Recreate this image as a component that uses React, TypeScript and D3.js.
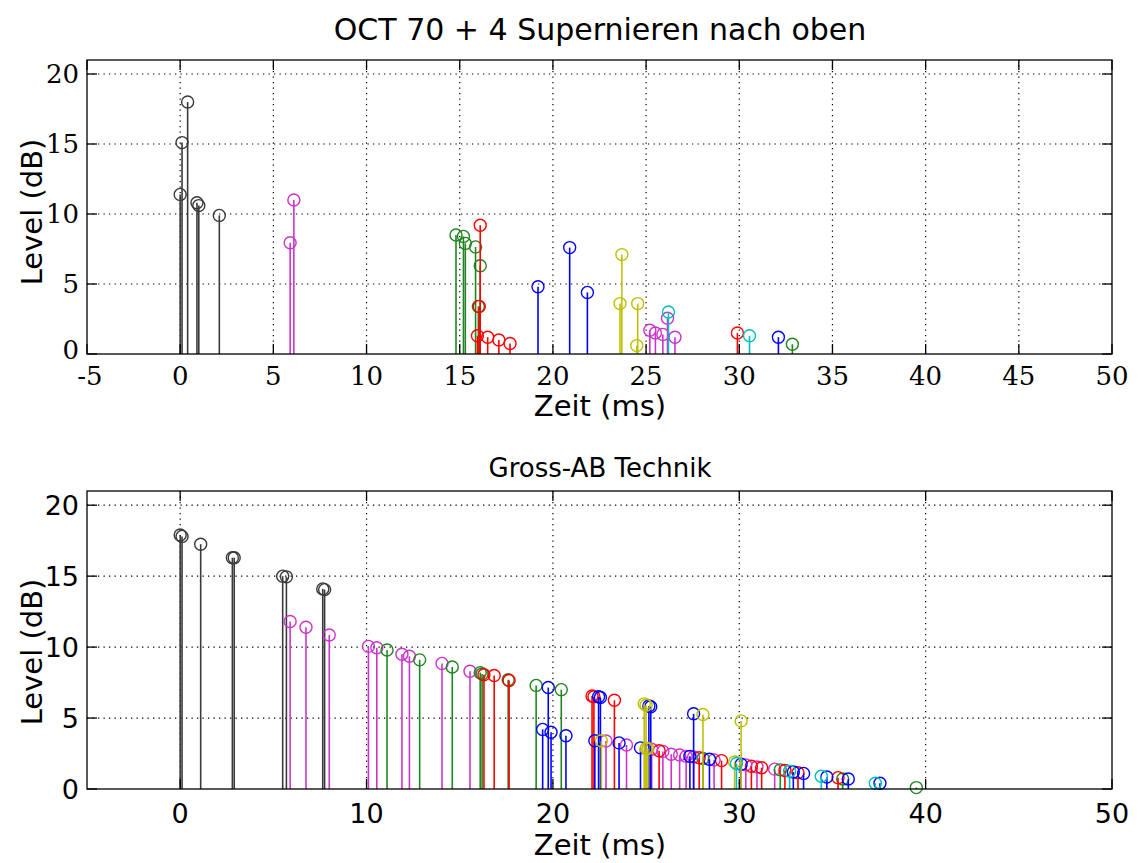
import * as d3 from 'd3';
import React from 'react';

// [time ms, level dB] per colour
const topBlack = [[0.0, 11.4], [0.1, 15.1], [0.4, 18.0], [0.9, 10.8], [1.0, 10.6], [2.1, 9.9]];
const topMagenta = [[5.9, 7.95], [6.1, 11.0], [25.2, 1.7], [25.5, 1.5], [25.9, 1.4], [26.15, 2.55], [26.55, 1.2]];
const topGreen = [[14.8, 8.5], [15.2, 8.4], [15.3, 7.9], [15.85, 7.65], [16.1, 6.3], [16.0, 3.4], [32.85, 0.7]];
const topRed = [[16.1, 9.2], [16.05, 3.4], [15.95, 1.3], [16.5, 1.2], [17.1, 1.0], [17.7, 0.75], [29.9, 1.5]];
const topBlue = [[19.2, 4.8], [20.9, 7.6], [21.85, 4.4], [32.1, 1.2]];
const topYellow = [[23.7, 7.1], [23.6, 3.6], [24.55, 3.6], [24.5, 0.6]];
const topCyan = [[26.2, 3.0], [30.55, 1.3]];

const botBlack = [[0.0, 17.9], [0.1, 17.8], [1.1, 17.25], [2.8, 16.3], [2.9, 16.3], [5.5, 15.0], [5.7, 14.95], [7.65, 14.1], [7.75, 14.05]];
const botMagenta = [[5.9, 11.8], [6.75, 11.4], [8.0, 10.85], [10.1, 10.05], [10.55, 9.95], [11.9, 9.5], [12.3, 9.35], [14.05, 8.85], [15.55, 8.3],
  [22.85, 3.38], [23.95, 3.1], [25.3, 2.8], [25.9, 2.65], [26.35, 2.45], [26.8, 2.4], [27.15, 2.3], [27.55, 2.25], [28.65, 2.05], [30.35, 1.7], [30.95, 1.55], [31.9, 1.4]];
const botGreen = [[11.1, 9.8], [12.85, 9.1], [14.6, 8.6], [16.1, 8.2], [16.2, 8.1], [17.6, 7.7], [19.1, 7.3], [20.45, 7.0], [28.05, 2.15], [32.2, 1.35], [35.55, 0.7], [39.5, 0.1]];
const botRed = [[16.3, 8.05], [16.85, 8.0], [17.65, 7.65], [22.1, 6.55], [22.2, 6.5], [23.3, 6.25], [25.7, 2.7], [27.85, 2.2], [29.05, 2.0], [30.65, 1.6], [31.2, 1.5], [32.45, 1.3], [33.15, 1.15], [35.3, 0.8]];
const botBlue = [[19.75, 7.15], [19.45, 4.2], [19.9, 4.0], [20.7, 3.75], [22.45, 6.5], [22.55, 6.45], [25.15, 5.85], [25.25, 5.8], [27.55, 5.3],
  [22.25, 3.4], [23.55, 3.25], [24.7, 2.9], [27.35, 2.3], [28.4, 2.1], [30.1, 1.75], [32.9, 1.2], [33.45, 1.1], [34.7, 0.85], [35.85, 0.7], [37.55, 0.4]];
const botYellow = [[24.9, 6.0], [25.0, 5.9], [28.05, 5.25], [30.1, 4.8], [22.6, 3.4], [25.0, 2.85], [25.1, 2.85], [29.75, 1.9]];
const botCyan = [[29.85, 1.8], [32.7, 1.25], [34.4, 0.9], [37.3, 0.4]];

const topXTicks = [-5, 0, 5, 10, 15, 20, 25, 30, 35, 40, 45, 50];
const botXTicks = [0, 10, 20, 30, 40, 50];
const yTicks = [0, 5, 10, 15, 20];

const COLORS = {
  black: '#3a3a3a', magenta: '#cc33cc', green: '#1f861f', red: '#ff0000',
  blue: '#0000ff', yellow: '#bfbf00', cyan: '#00bfbf',
};

const SANS = 'DejaVu Sans';
const SERIF = 'DejaVu Serif';

const LEFT = 87;
const RIGHT = 1112;

type Series = { color: string; data: number[][] };

const StemPanel = ({ top, bottom, series, xTicks, gridX, tickFont, tickSize, xLabelY, title, titleY, titleSize, xTitleY, levelY }:
  { top: number; bottom: number; series: Series[]; xTicks: number[]; gridX: number[]; tickFont: string; tickSize: number;
    xLabelY: number; title: string; titleY: number; titleSize: number; xTitleY: number; levelY: number }) => {
  const x = d3.scaleLinear().domain([-5, 50]).range([LEFT, RIGHT]);
  const y = d3.scaleLinear().domain([0, 21]).range([bottom, top]);
  const tl = 10;
  return (
    <g>
      <text x={600} y={titleY} textAnchor="middle" fontFamily={SANS} fontSize={titleSize}>{title}</text>
      {/* grid */}
      {gridX.map(t => (
        <line key={'gx' + t} x1={x(t)} x2={x(t)} y1={top} y2={bottom} stroke="#000" strokeWidth={1.2} strokeDasharray="1.3,4.2" />
      ))}
      {yTicks.filter(v => v > 0).map(v => (
        <line key={'gy' + v} x1={LEFT} x2={RIGHT} y1={y(v)} y2={y(v)} stroke="#000" strokeWidth={1.2} strokeDasharray="1.3,4.2" />
      ))}
      {/* stems */}
      {series.map((s, si) => (
        <g key={'s' + si}>
          {s.data.map((d, i) => (
            <g key={i}>
              <line x1={x(d[0])} x2={x(d[0])} y1={y(0)} y2={y(d[1])} stroke={s.color} strokeWidth={1.6} />
              <circle cx={x(d[0])} cy={y(d[1])} r={6} fill="none" stroke={s.color} strokeWidth={1.4} />
            </g>
          ))}
        </g>
      ))}
      {/* box + ticks */}
      <rect x={LEFT} y={top} width={RIGHT - LEFT} height={bottom - top} fill="none" stroke="#000" strokeWidth={1.3} />
      {xTicks.map(t => (
        <g key={'xt' + t}>
          <line x1={x(t)} x2={x(t)} y1={bottom} y2={bottom - tl} stroke="#000" strokeWidth={1.3} />
          <line x1={x(t)} x2={x(t)} y1={top} y2={top + tl} stroke="#000" strokeWidth={1.3} />
          <text x={x(t) + (t === -5 ? 3 : 0)} y={xLabelY} textAnchor="middle" fontFamily={tickFont} fontSize={tickSize}>{t}</text>
        </g>
      ))}
      {yTicks.map(v => (
        <g key={'yt' + v}>
          <line x1={LEFT} x2={LEFT + tl} y1={y(v)} y2={y(v)} stroke="#000" strokeWidth={1.3} />
          <line x1={RIGHT} x2={RIGHT - tl} y1={y(v)} y2={y(v)} stroke="#000" strokeWidth={1.3} />
          <text x={79} y={y(v)} dy={v === 0 && tickFont === SERIF ? '0.2em' : '0.36em'} textAnchor="end" fontFamily={tickFont} fontSize={tickSize}>{v}</text>
        </g>
      ))}
      <text x={600} y={xTitleY} textAnchor="middle" fontFamily={SANS} fontSize={29}>Zeit (ms)</text>
      <text transform={`translate(42,${levelY}) rotate(-90)`} textAnchor="middle" fontFamily={SANS} fontSize={29}>Level (dB)</text>
    </g>
  );
};

export default function App() {
  const topSeries: Series[] = [
    { color: COLORS.black, data: topBlack },
    { color: COLORS.magenta, data: topMagenta },
    { color: COLORS.green, data: topGreen },
    { color: COLORS.red, data: topRed },
    { color: COLORS.blue, data: topBlue },
    { color: COLORS.yellow, data: topYellow },
    { color: COLORS.cyan, data: topCyan },
  ];
  const botSeries: Series[] = [
    { color: COLORS.black, data: botBlack },
    { color: COLORS.magenta, data: botMagenta },
    { color: COLORS.green, data: botGreen },
    { color: COLORS.red, data: botRed },
    { color: COLORS.blue, data: botBlue },
    { color: COLORS.yellow, data: botYellow },
    { color: COLORS.cyan, data: botCyan },
  ];
  return (
    <svg width={1138} height={863} style={{ position: 'absolute', left: 0, top: 0, background: '#fff' }}>
      <rect width={1138} height={863} fill="#fff" />
      <StemPanel top={60} bottom={354} series={topSeries} xTicks={topXTicks} gridX={[0, 5, 10, 15, 20, 25, 30, 35, 40, 45]}
        tickFont={SERIF} tickSize={26} xLabelY={385} title="OCT 70 + 4 Supernieren nach oben" titleY={40} titleSize={30}
        xTitleY={416} levelY={212} />
      <StemPanel top={491} bottom={789} series={botSeries} xTicks={botXTicks} gridX={[0, 10, 20, 30, 40]}
        tickFont={SANS} tickSize={27} xLabelY={823} title="Gross-AB Technik" titleY={477} titleSize={26}
        xTitleY={855} levelY={652} />
    </svg>
  );
}
